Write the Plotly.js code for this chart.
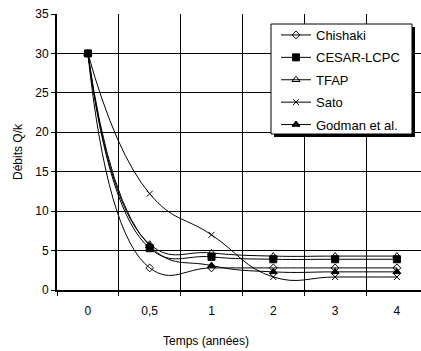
<!DOCTYPE html>
<html>
<head>
<meta charset="utf-8">
<script src="https://cdn.plot.ly/plotly-3.0.1.min.js"></script>
<style>html,body{margin:0;padding:0;background:#fff;}#chart{width:421px;height:351px;}</style>
</head>
<body>
<div id="chart"></div>
<script>
const categories = ['0', '0,5', '1', '2', '3', '4'];
const chishaki = [30, 2.8, 2.8, 2.8, 2.8, 2.8];
const cesarLcpc = [30, 5.3, 4.2, 3.9, 3.9, 3.9];
const tfap = [30, 5.8, 4.7, 4.3, 4.3, 4.3];
const sato = [30, 12.2, 7.0, 1.65, 1.65, 1.65];
const godman = [30, 5.6, 3.1, 2.3, 2.3, 2.3];
const seriesNames = ['Chishaki', 'CESAR-LCPC', 'TFAP', 'Sato', 'Godman et al.'];
const yTicks = [0, 5, 10, 15, 20, 25, 30, 35];

const symbols = ['diamond-open', 'square', 'triangle-up-open', 'x-thin-open', 'triangle-up'];
const sizes = [6, 7, 7, 6, 7];
const allSeries = [chishaki, cesarLcpc, tfap, sato, godman];

const traces = allSeries.map((vals, i) => ({
  type: 'scatter',
  mode: 'lines+markers',
  name: seriesNames[i],
  legendgroup: 'g' + i,
  x: categories,
  y: vals,
  line: {color: '#000', width: 1, shape: 'spline', smoothing: 1.3},
  marker: {symbol: symbols[i], size: sizes[i], color: '#000', line: {color: '#000', width: 1}}
}));

const W = 421, H = 351, L = 57, T = 14, B = 61;
const pw = W - L, ph = H - T - B;
const FONT = 'Liberation Sans, Arial, sans-serif';
const px = v => (v - L) / pw;
const py = v => (H - B - v) / ph;

const layout = {
  width: W, height: H,
  margin: {l: L, r: 0, t: T, b: B, pad: 0},
  paper_bgcolor: '#fff', plot_bgcolor: '#fff',
  font: {family: FONT, size: 12, color: '#000'},
  showlegend: true,
  legend: {
    x: px(276), y: py(20), xanchor: 'left', yanchor: 'top',
    bgcolor: 'rgba(0,0,0,0)', borderwidth: 0,
    font: {family: FONT, size: 13, color: '#000'},
    tracegroupgap: 2.5
  },
  xaxis: {
    type: 'category',
    range: [-0.5, 5.39],
    tickson: 'boundaries',
    ticks: 'outside', ticklen: 4, tickcolor: '#000', tickwidth: 1,
    showgrid: true, gridcolor: '#000', gridwidth: 1,
    showline: true, linecolor: '#000', linewidth: 2,
    zeroline: false,
    ticklabelstandoff: 9,
    tickfont: {size: 12},
    fixedrange: true
  },
  yaxis: {
    range: [0, 35],
    tickvals: yTicks,
    ticks: 'outside', ticklen: 4, tickcolor: '#000', tickwidth: 1,
    showgrid: true, gridcolor: '#000', gridwidth: 1,
    showline: true, linecolor: '#000', linewidth: 2,
    zeroline: false,
    tickfont: {size: 12},
    title: {text: 'Débits Q/k', font: {size: 12}, standoff: 10},
    fixedrange: true
  },
  shapes: [
    {type: 'rect', xref: 'paper', yref: 'paper',
     x0: px(274), x1: px(415), y0: py(137), y1: py(27),
     fillcolor: '#000', line: {width: 0}, layer: 'above'},
    {type: 'rect', xref: 'paper', yref: 'paper',
     x0: px(271), x1: px(412), y0: py(134), y1: py(24),
     fillcolor: '#fff', line: {color: '#000', width: 1}, layer: 'above'}
  ],
  annotations: [{
    text: 'Temps (années)', xref: 'paper', yref: 'paper',
    x: px(206), y: py(341),
    xanchor: 'center', yanchor: 'middle', showarrow: false,
    font: {size: 12}
  }]
};

Plotly.newPlot('chart', traces, layout, {displayModeBar: false, staticPlot: true});
</script>
</body>
</html>
